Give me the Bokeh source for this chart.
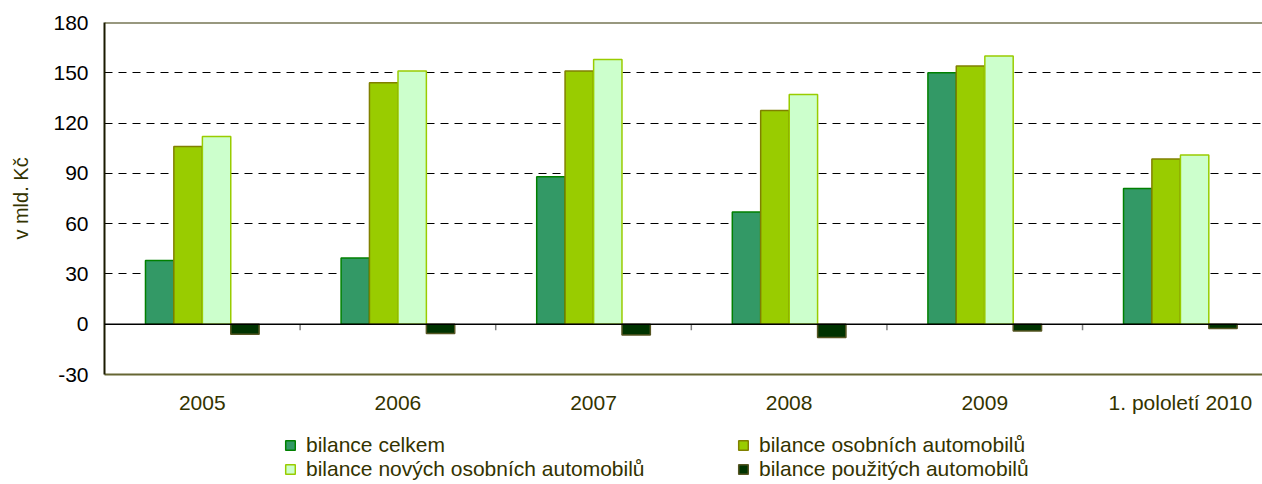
from bokeh.plotting import figure
from bokeh.models import (Range1d, FixedTicker, Span, Legend, LegendItem, LinearAxis)
from bokeh.layouts import column
from bokeh.embed import file_html
from bokeh.resources import INLINE

categories = ["2005", "2006", "2007", "2008", "2009", "1. pololetí 2010"]
celkem = [38, 39.5, 88, 67, 150, 81]
osobnich = [106, 144, 151, 127.5, 154, 98.5]
novych = [112, 151, 158, 137, 160, 101]
pouzitych = [-6, -5.5, -6.5, -8, -4, -2.5]
series_names = ["bilance celkem", "bilance osobních automobilů",
                "bilance nových osobních automobilů", "bilance použitých automobilů"]
y_ticks = [-30, 0, 30, 60, 90, 120, 150, 180]

FONT = "Liberation Sans"
OLIVE = "#333300"
W = 1262

p = figure(width=W, height=418, output_backend="svg", toolbar_location=None,
           x_range=Range1d(0, 5.92), y_range=Range1d(-30, 180),
           min_border_left=104, min_border_right=0, min_border_top=22, min_border_bottom=44,
           background_fill_color="white", border_fill_color="white")
p.outline_line_color = None
p.xaxis.visible = False
p.yaxis.visible = False
p.xgrid.visible = False

# y axis
yax = LinearAxis(ticker=FixedTicker(ticks=y_ticks))
yax.major_label_overrides = {v: str(v) for v in y_ticks}
yax.axis_label = "v mld. Kč"
yax.axis_label_text_font = FONT
yax.axis_label_text_font_size = "20px"
yax.axis_label_text_font_style = "normal"
yax.axis_label_text_color = OLIVE
yax.axis_label_standoff = 18
yax.major_label_text_font = FONT
yax.major_label_text_font_size = "21px"
yax.major_label_text_color = "black"
yax.major_label_standoff = 16
yax.major_tick_out = 0
yax.major_tick_in = 0
yax.minor_tick_out = 0
yax.minor_tick_in = 0
yax.axis_line_color = "#1a1a00"
yax.axis_line_width = 2
p.add_layout(yax, "left")

# x axis
centers = [i + 0.5 for i in range(len(categories))]
xax = LinearAxis(ticker=FixedTicker(ticks=centers))
xax.major_label_overrides = {c: lab for c, lab in zip(centers, categories)}
xax.major_label_text_font = FONT
xax.major_label_text_font_size = "21px"
xax.major_label_text_color = OLIVE
xax.major_label_standoff = 16
xax.major_tick_out = 0
xax.major_tick_in = 0
xax.minor_tick_out = 0
xax.minor_tick_in = 0
xax.axis_line_color = "#666633"
xax.axis_line_width = 2
p.add_layout(xax, "below")

# grid
p.ygrid.ticker = FixedTicker(ticks=[30, 60, 90, 120, 150])
p.ygrid.grid_line_color = "black"
p.ygrid.grid_line_dash = "8 6"
p.ygrid.grid_line_width = 1

# top border
p.add_layout(Span(location=180, dimension="width", line_color=OLIVE, line_width=2))

# bars
bw = 0.145
offsets = [-0.218, -0.073, 0.073, 0.218]
fills = ["#339966", "#99CC00", "#CCFFCC", "#003300"]
lines = ["#008000", "#808000", "#99CC00", "#555522"]
all_series = [celkem, osobnich, novych, pouzitych]
for vals, off, fc, lc in zip(all_series, offsets, fills, lines):
    xs = [c + off for c in centers]
    p.vbar(x=xs, top=vals, bottom=0, width=bw, fill_color=fc, line_color=lc, line_width=1.5)

p.add_layout(Span(location=0, dimension="width", line_color="black", line_width=1.5))

# small category separator ticks at zero
seps = list(range(1, len(categories)))
p.segment(x0=seps, y0=[0] * len(seps), x1=seps, y1=[-3.6] * len(seps),
          line_color="#808080", line_width=1.5)

# legend figure below
lf = figure(width=W, height=66, output_backend="svg", toolbar_location=None,
            x_axis_type=None, y_axis_type=None, x_range=Range1d(0, 1), y_range=Range1d(0, 1),
            min_border=0, background_fill_color="white", border_fill_color="white")
lf.outline_line_color = None
lf.grid.visible = False
dummy = []
for fc, lc in zip(fills, lines):
    # zero-size bar (draws nothing), only so the legend swatch can be drawn
    r = lf.vbar(x=[0.5], top=[0.5], bottom=[0.5], width=0,
                fill_color=fc, line_color=lc, line_width=1.5)
    dummy.append(r)

order = [0, 2, 1, 3]  # column-major fill: row 1 = items 0,1 ; row 2 = items 2,3
items = [LegendItem(label=series_names[i], renderers=[dummy[i]]) for i in order]
legend = Legend(items=items, ncols=2, location=(180, 3), orientation="vertical")
legend.border_line_color = None
legend.background_fill_alpha = 0
legend.padding = 0
legend.margin = 0
legend.spacing = 0
legend.glyph_width = 12
legend.glyph_height = 12
legend.label_standoff = 10
legend.label_height = 24
legend.label_width = 431
legend.label_text_font = FONT
legend.label_text_font_size = "21px"
legend.label_text_color = OLIVE
lf.add_layout(legend, "center")

layout = column(p, lf, spacing=0)
open("out.html", "w").write(file_html(layout, INLINE))
